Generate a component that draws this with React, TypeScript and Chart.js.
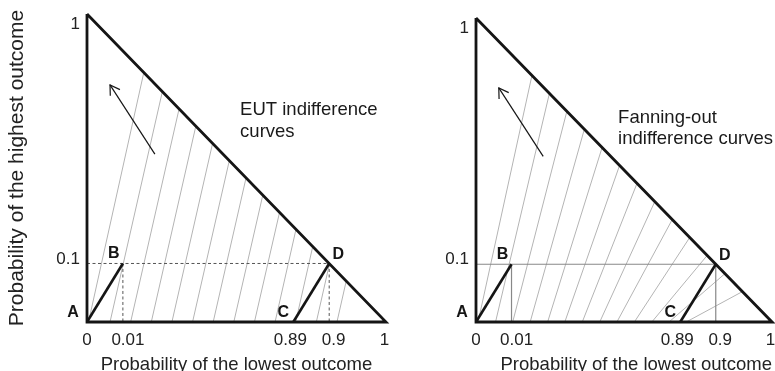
import React, { useEffect, useRef } from 'react';
import { Chart, registerables } from 'chart.js';

Chart.register(...registerables);

const FONT = '"Liberation Sans", Arial, Helvetica, sans-serif';

// ---- data (schematic Marschak-Machina triangle, not drawn to scale) ----
const triangleX = [0, 0, 1, 0];
const triangleY = [1, 0, 0, 1];

const pointNames = ['A', 'B', 'C', 'D'];
const pointX = [0, 0.12, 0.69, 0.81];
const pointY = [0, 0.19, 0, 0.19];

const xTickValues = [0, 0.137, 0.68, 0.825, 0.995];
const xTickLabels = ['0', '0.01', '0.89', '0.9', '1'];
const yTickValues = [0.205, 0.965];
const yTickLabels = ['0.1', '1'];

// EUT indifference curves: parallel lines (bottom x -> x where they meet the hypotenuse)
const eutBottomX = [0.005, 0.077, 0.146, 0.215, 0.284, 0.353, 0.422, 0.491, 0.56, 0.629, 0.698, 0.767, 0.836];
const eutTopX = [0.19, 0.252, 0.308, 0.364, 0.42, 0.476, 0.532, 0.588, 0.644, 0.699, 0.755, 0.811, 0.867];

// Fanning-out indifference curves
const fanBottomX = [0.007, 0.066, 0.124, 0.183, 0.242, 0.3, 0.359, 0.418, 0.476, 0.535, 0.594, 0.652, 0.71];
const fanTopX = [0.189, 0.248, 0.307, 0.366, 0.426, 0.485, 0.544, 0.604, 0.663, 0.722, 0.781, 0.841, 0.9];

const arrowX = [0.227, 0.077];
const arrowY = [0.545, 0.77];

const eutText = ['EUT indifference', 'curves'];
const eutTextAt = [0.512, 0.687];
const fanText = ['Fanning-out', 'indifference curves'];
const fanTextAt = [0.48, 0.673];

const yTitle = 'Probability of the highest outcome';
const xTitle = 'Probability of the lowest outcome';

// ---- styles ----
const labelDX = [-14, -9, -10, 9];
const labelDY = [-9, -10, -9, -9];

type PanelCfg = {
  bottoms: number[];
  tops: number[];
  dashed: boolean;
  showYTitle: boolean;
  text: string[];
  textAt: number[];
  padTop: number;
  padRight: number;
  yWidth: number;
  titleAlign: 'center' | 'end';
};

function seg(x0: number, y0: number, x1: number, y1: number) {
  return [
    { x: x0, y: y0 },
    { x: x1, y: y1 },
  ];
}

function buildConfig(cfg: PanelCfg): any {
  const base = { showLine: true, pointRadius: 0, fill: false, tension: 0, clip: false as any };
  const datasets: any[] = [];
  datasets.push({
    ...base,
    data: triangleX.map((x, i) => ({ x, y: triangleY[i] })),
    borderColor: '#151515',
    borderWidth: 2.8,
    borderJoinStyle: 'miter',
    order: 0,
  });
  datasets.push({
    ...base,
    data: seg(pointX[0], pointY[0], pointX[1], pointY[1]),
    borderColor: '#151515',
    borderWidth: 2.6,
    order: 0,
  });
  datasets.push({
    ...base,
    data: seg(pointX[2], pointY[2], pointX[3], pointY[3]),
    borderColor: '#151515',
    borderWidth: 2.6,
    order: 0,
  });
  const guideStyle = cfg.dashed
    ? { borderColor: '#555', borderWidth: 1, borderDash: [3, 2.5] }
    : { borderColor: '#888', borderWidth: 1.2 };
  datasets.push({ ...base, ...guideStyle, data: seg(0, pointY[3], pointX[3], pointY[3]), order: 1 });
  datasets.push({ ...base, ...guideStyle, data: seg(pointX[1], pointY[1], pointX[1], 0), order: 1 });
  datasets.push({ ...base, ...guideStyle, data: seg(pointX[3], pointY[3], pointX[3], 0), order: 1 });
  cfg.bottoms.forEach((b, i) => {
    datasets.push({
      ...base,
      data: seg(b, 0, cfg.tops[i], 1 - cfg.tops[i]),
      borderColor: '#b4b4b4',
      borderWidth: 1,
      order: 2,
    });
  });
  datasets.push({
    ...base,
    data: seg(arrowX[0], arrowY[0], arrowX[1], arrowY[1]),
    borderColor: '#151515',
    borderWidth: 1.2,
    order: 0,
  });

  const decor = {
    id: 'decor',
    afterDatasetsDraw(chart: any) {
      const { ctx } = chart;
      const xs = chart.scales.x;
      const ys = chart.scales.y;
      ctx.save();
      // arrowhead
      const tx = xs.getPixelForValue(arrowX[0]);
      const ty = ys.getPixelForValue(arrowY[0]);
      const hx = xs.getPixelForValue(arrowX[1]);
      const hy = ys.getPixelForValue(arrowY[1]);
      const ang = Math.atan2(ty - hy, tx - hx);
      const len = 11;
      const spread = 0.55;
      ctx.strokeStyle = '#151515';
      ctx.lineWidth = 1.2;
      ctx.beginPath();
      ctx.moveTo(hx + len * Math.cos(ang - spread), hy + len * Math.sin(ang - spread));
      ctx.lineTo(hx, hy);
      ctx.lineTo(hx + len * Math.cos(ang + spread), hy + len * Math.sin(ang + spread));
      ctx.stroke();
      // point labels
      ctx.fillStyle = '#151515';
      ctx.font = `bold 16px ${FONT}`;
      ctx.textAlign = 'center';
      ctx.textBaseline = 'middle';
      pointNames.forEach((n, i) => {
        ctx.fillText(n, xs.getPixelForValue(pointX[i]) + labelDX[i], ys.getPixelForValue(pointY[i]) + labelDY[i]);
      });
      // annotation
      ctx.font = `18.5px ${FONT}`;
      ctx.fillStyle = '#1a1a1a';
      ctx.textAlign = 'left';
      const ax = xs.getPixelForValue(cfg.textAt[0]);
      const ay = ys.getPixelForValue(cfg.textAt[1]);
      cfg.text.forEach((t, k) => ctx.fillText(t, ax, ay + k * 21.6));
      ctx.restore();
    },
  };

  const zeroPad = (s: any) => {
    s.paddingTop = 0;
    s.paddingBottom = 0;
    s.paddingLeft = 0;
    s.paddingRight = 0;
  };

  return {
    type: 'scatter',
    data: { datasets },
    plugins: [decor],
    options: {
      animation: false,
      responsive: false,
      maintainAspectRatio: false,
      events: [],
      layout: { padding: { top: cfg.padTop, right: cfg.padRight, left: 0, bottom: 0 } },
      plugins: { legend: { display: false }, tooltip: { enabled: false } },
      scales: {
        x: {
          type: 'linear',
          min: 0,
          max: 1,
          grid: { display: false, drawTicks: false },
          border: { display: false },
          afterBuildTicks: (s: any) => {
            s.ticks = xTickValues.map((v) => ({ value: v }));
          },
          afterFit: (s: any) => {
            s.height = 49;
            zeroPad(s);
          },
          ticks: {
            autoSkip: false,
            maxRotation: 0,
            padding: 8,
            color: '#222',
            font: { family: FONT, size: 17 },
            callback: (_v: any, i: number) => xTickLabels[i],
          },
          title: {
            display: true,
            text: xTitle,
            align: cfg.titleAlign,
            color: '#222',
            font: { family: FONT, size: 18.5, lineHeight: 0.65 },
            padding: { top: 0, bottom: 0 },
          },
        },
        y: {
          type: 'linear',
          min: 0,
          max: 1,
          grid: { display: false, drawTicks: false },
          border: { display: false },
          afterBuildTicks: (s: any) => {
            s.ticks = yTickValues.map((v) => ({ value: v }));
          },
          afterFit: (s: any) => {
            s.width = cfg.yWidth;
            zeroPad(s);
          },
          ticks: {
            autoSkip: false,
            padding: 7,
            color: '#222',
            font: { family: FONT, size: 17 },
            callback: (_v: any, i: number) => yTickLabels[i],
          },
          title: {
            display: cfg.showYTitle,
            text: yTitle,
            color: '#222',
            font: { family: FONT, size: 21 },
            padding: { top: 5, bottom: 0 },
          },
        },
      },
    },
  };
}

function Panel({ cfg, left, width }: { cfg: PanelCfg; left: number; width: number }) {
  const ref = useRef<HTMLCanvasElement>(null);
  useEffect(() => {
    const chart = new Chart(ref.current as HTMLCanvasElement, buildConfig(cfg));
    return () => chart.destroy();
  }, []);
  return (
    <canvas
      ref={ref}
      width={width}
      height={371}
      style={{ position: 'absolute', left, top: 0, width, height: 371 }}
    />
  );
}

const leftCfg: PanelCfg = {
  bottoms: eutBottomX,
  tops: eutTopX,
  dashed: true,
  showYTitle: true,
  text: eutText,
  textAt: eutTextAt,
  padTop: 14,
  padRight: 4,
  yWidth: 87,
  titleAlign: 'center',
};

const rightCfg: PanelCfg = {
  bottoms: fanBottomX,
  tops: fanTopX,
  dashed: false,
  showYTitle: false,
  text: fanText,
  textAt: fanTextAt,
  padTop: 18,
  padRight: 3,
  yWidth: 86,
  titleAlign: 'end',
};

export default function App() {
  return (
    <div style={{ position: 'fixed', left: 0, top: 0, width: 775, height: 371, background: '#fff', overflow: 'hidden' }}>
      <Panel cfg={leftCfg} left={0} width={390} />
      <Panel cfg={rightCfg} left={390} width={385} />
    </div>
  );
}
